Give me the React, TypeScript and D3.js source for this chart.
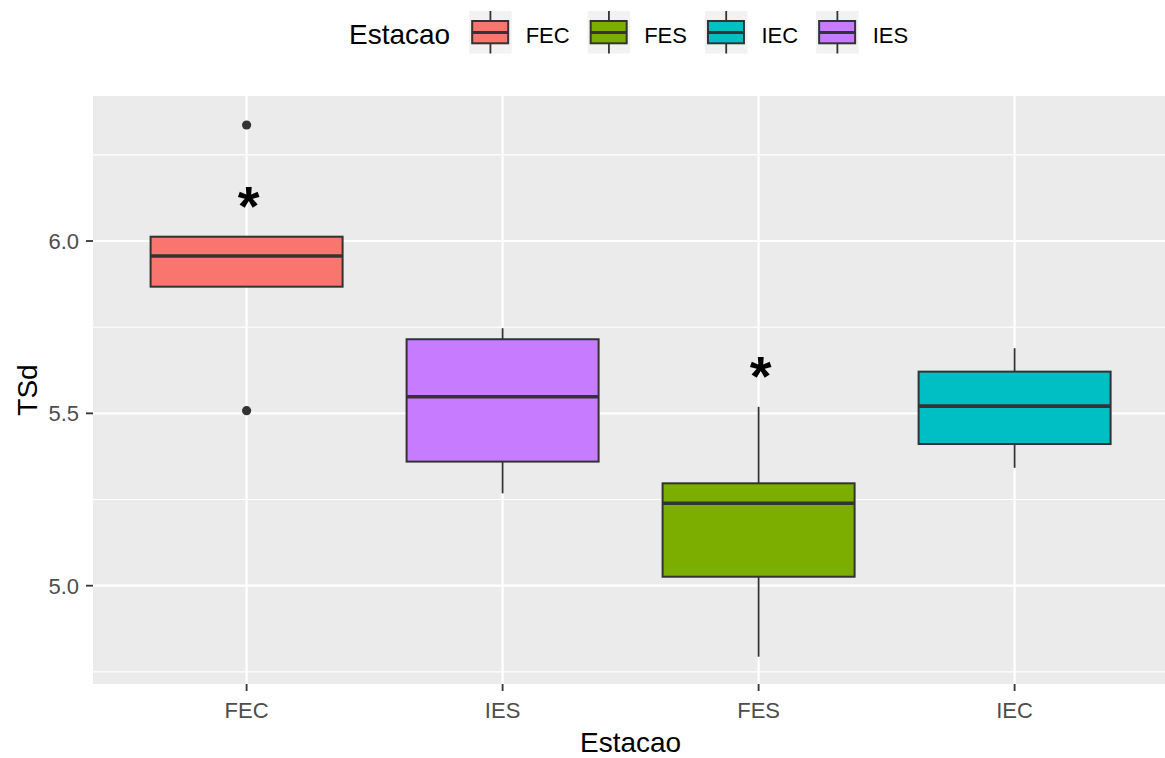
import React, { useMemo } from "react";
import * as d3 from "d3";

// Box statistics per station (ordered as on the x axis)
const CATEGORIES = ["FEC", "IES", "FES", "IEC"];
const LOWER_WHISKER = [5.8675, 5.268, 4.794, 5.342];
const Q1 = [5.8675, 5.36, 5.026, 5.411];
const MEDIAN = [5.9565, 5.548, 5.239, 5.521];
const Q3 = [6.0125, 5.715, 5.297, 5.621];
const UPPER_WHISKER = [6.0125, 5.747, 5.519, 5.689];
const OUTLIERS: number[][] = [[6.3365, 5.5077], [], [], []];
// Significance marks ("*") drawn above some boxes
const STAR_VALUE: (number | null)[] = [6.121, null, 5.628, null];

const LEGEND_ORDER = ["FEC", "FES", "IEC", "IES"];
const FILLS: Record<string, string> = {
  FEC: "#F8766D",
  FES: "#7CAE00",
  IEC: "#00BFC4",
  IES: "#C77CFF",
};

const Y_MAJOR = [5.0, 5.5, 6.0];
const Y_MINOR = [4.75, 5.25, 5.75, 6.25];
const Y_DOMAIN: [number, number] = [4.7148, 6.4207];

const FONT = "'Liberation Sans', Arial, Helvetica, sans-serif";
const W = 1165;
const H = 758;

function measure(text: string, size: number): number {
  if (typeof document === "undefined") return text.length * size * 0.6;
  const c = document.createElement("canvas");
  const ctx = c.getContext("2d");
  if (!ctx) return text.length * size * 0.6;
  ctx.font = `${size}px ${FONT}`;
  return ctx.measureText(text).width;
}

export default function App() {
  const panel = { left: 93, right: 1168.2, top: 96, bottom: 684 };

  const x = d3
    .scalePoint<string>()
    .domain(CATEGORIES)
    .range([panel.left, panel.right])
    .padding(0.6);
  const step = x.step();
  const boxW = step * 0.75;

  const y = d3.scaleLinear().domain(Y_DOMAIN).range([panel.bottom, panel.top]);

  const legend = useMemo(() => {
    const titleX = 349;
    const titleW = measure("Estacao", 28);
    let cur = titleX + titleW + 19;
    const items = LEGEND_ORDER.map((k) => {
      const keyX = cur;
      const labelX = keyX + 42.5 + 14;
      const lw = measure(k, 22);
      cur = labelX + lw + 18;
      return { k, keyX, labelX };
    });
    return { titleX, items };
  }, []);

  const starSize = 56;

  return (
    <div style={{ position: "absolute", left: 0, top: 0 }}>
      <svg width={W} height={H} style={{ display: "block", background: "#fff" }}>
        {/* panel background */}
        <rect
          x={panel.left}
          y={panel.top}
          width={panel.right - panel.left}
          height={panel.bottom - panel.top}
          fill="#EBEBEB"
        />
        {/* minor grid */}
        {Y_MINOR.map((v) => (
          <line
            key={"mn" + v}
            x1={panel.left}
            x2={panel.right}
            y1={y(v)}
            y2={y(v)}
            stroke="#fff"
            strokeWidth={1.1}
          />
        ))}
        {/* major grid */}
        {Y_MAJOR.map((v) => (
          <line
            key={"mj" + v}
            x1={panel.left}
            x2={panel.right}
            y1={y(v)}
            y2={y(v)}
            stroke="#fff"
            strokeWidth={2.2}
          />
        ))}
        {CATEGORIES.map((c) => (
          <line
            key={"gx" + c}
            x1={x(c)}
            x2={x(c)}
            y1={panel.top}
            y2={panel.bottom}
            stroke="#fff"
            strokeWidth={2.2}
          />
        ))}

        {/* boxplots */}
        {CATEGORIES.map((c, i) => {
          const cx = x(c) as number;
          return (
            <g key={"box" + c}>
              <line
                x1={cx}
                x2={cx}
                y1={y(UPPER_WHISKER[i])}
                y2={y(Q3[i])}
                stroke="#333333"
                strokeWidth={1.8}
              />
              <line
                x1={cx}
                x2={cx}
                y1={y(Q1[i])}
                y2={y(LOWER_WHISKER[i])}
                stroke="#333333"
                strokeWidth={1.8}
              />
              <rect
                x={cx - boxW / 2}
                y={y(Q3[i])}
                width={boxW}
                height={y(Q1[i]) - y(Q3[i])}
                fill={FILLS[c]}
                stroke="#333333"
                strokeWidth={2}
              />
              <line
                x1={cx - boxW / 2}
                x2={cx + boxW / 2}
                y1={y(MEDIAN[i])}
                y2={y(MEDIAN[i])}
                stroke="#333333"
                strokeWidth={3.6}
              />
              {OUTLIERS[i].map((o, j) => (
                <circle key={j} cx={cx} cy={y(o)} r={4.6} fill="#333333" />
              ))}
              {STAR_VALUE[i] !== null && (
                <text
                  x={cx + 2}
                  y={y(STAR_VALUE[i] as number) + starSize * 0.46}
                  textAnchor="middle"
                  fontFamily={FONT}
                  fontWeight="bold"
                  fontSize={starSize}
                  fill="#000"
                >
                  *
                </text>
              )}
            </g>
          );
        })}

        {/* y axis */}
        {Y_MAJOR.map((v) => (
          <g key={"yt" + v}>
            <line
              x1={panel.left - 7}
              x2={panel.left}
              y1={y(v)}
              y2={y(v)}
              stroke="#333333"
              strokeWidth={1.8}
            />
            <text
              x={panel.left - 14}
              y={y(v) + 8}
              textAnchor="end"
              fontFamily={FONT}
              fontSize={22}
              fill="#4D4D4D"
            >
              {d3.format(".1f")(v)}
            </text>
          </g>
        ))}
        <text
          transform={`translate(37,${(panel.top + panel.bottom) / 2}) rotate(-90)`}
          textAnchor="middle"
          fontFamily={FONT}
          fontSize={28}
          fill="#000"
        >
          TSd
        </text>

        {/* x axis */}
        {CATEGORIES.map((c) => (
          <g key={"xt" + c}>
            <line
              x1={x(c)}
              x2={x(c)}
              y1={panel.bottom}
              y2={panel.bottom + 7}
              stroke="#333333"
              strokeWidth={1.8}
            />
            <text
              x={x(c)}
              y={718}
              textAnchor="middle"
              fontFamily={FONT}
              fontSize={22}
              fill="#4D4D4D"
            >
              {c}
            </text>
          </g>
        ))}
        <text
          x={(panel.left + panel.right) / 2}
          y={752}
          textAnchor="middle"
          fontFamily={FONT}
          fontSize={28}
          fill="#000"
        >
          Estacao
        </text>

        {/* legend */}
        <text x={legend.titleX} y={44.3} fontFamily={FONT} fontSize={28} fill="#000">
          Estacao
        </text>
        {legend.items.map((it) => {
          const kx = it.keyX;
          const ky = 11;
          const ks = 42.5;
          const mid = kx + ks / 2;
          return (
            <g key={"lg" + it.k}>
              <rect x={kx} y={ky} width={ks} height={ks} fill="#F2F2F2" />
              <line x1={mid} x2={mid} y1={ky} y2={ky + ks} stroke="#333333" strokeWidth={1.8} />
              <rect
                x={kx + 3}
                y={ky + 10}
                width={ks - 6.5}
                height={22.3}
                fill={FILLS[it.k]}
                stroke="#333333"
                strokeWidth={2}
              />
              <line
                x1={kx + 3}
                x2={kx + ks - 3.5}
                y1={ky + 21.5}
                y2={ky + 21.5}
                stroke="#333333"
                strokeWidth={3}
              />
              <text x={it.labelX} y={43.3} fontFamily={FONT} fontSize={22} fill="#000">
                {it.k}
              </text>
            </g>
          );
        })}
      </svg>
    </div>
  );
}
